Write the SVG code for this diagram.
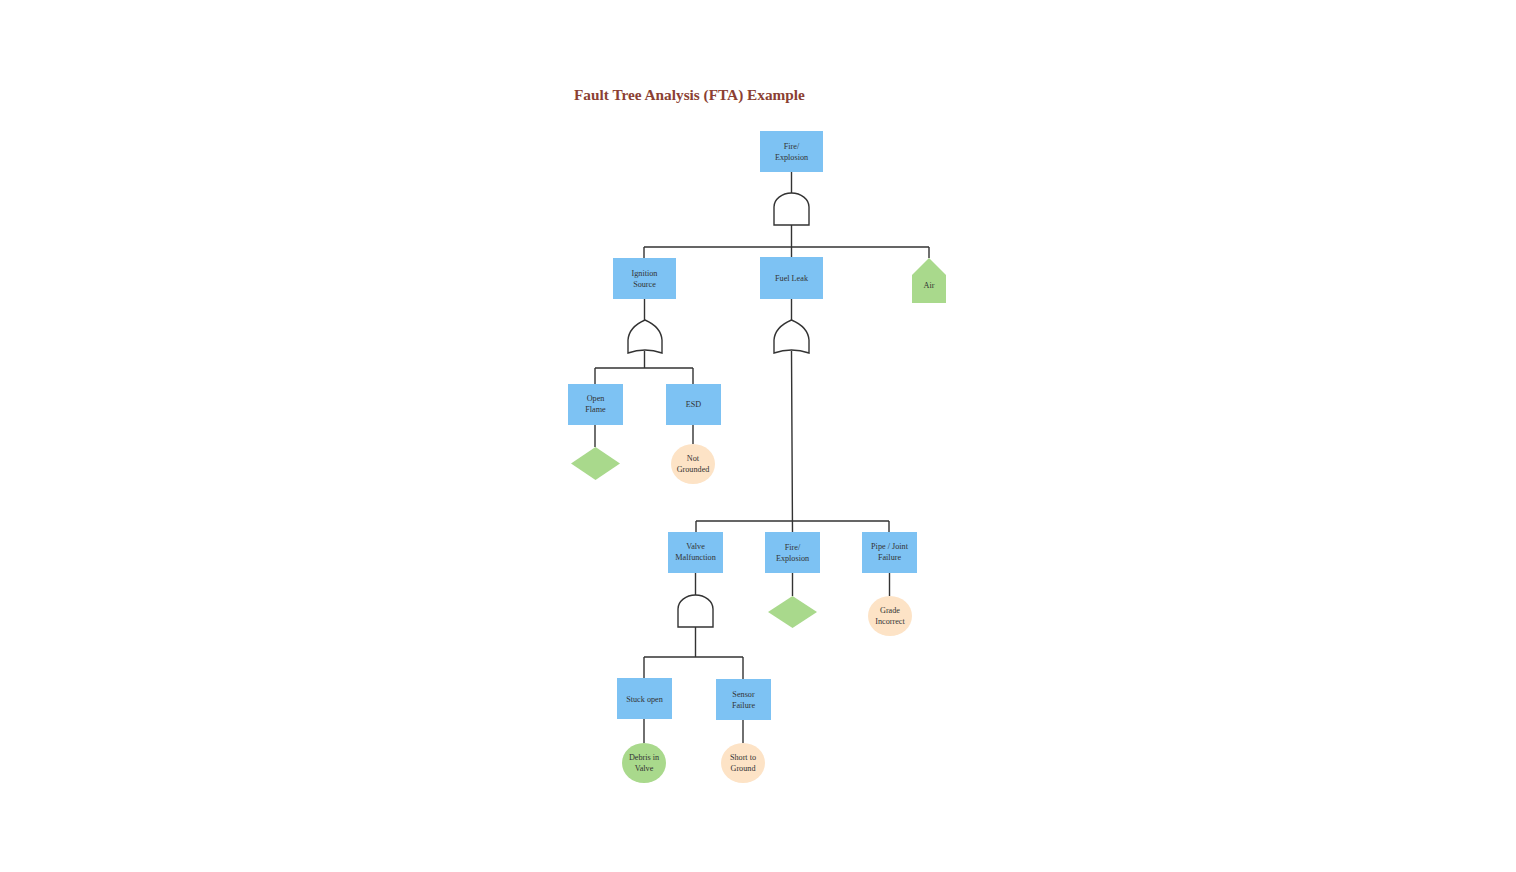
<svg xmlns="http://www.w3.org/2000/svg" width="1516" height="872" viewBox="0 0 1516 872">
<style>
.box{fill:#7DC2F3;}
.green{fill:#A9D98C;}
.peach{fill:#FDE3C6;}
.gate{fill:#fff;stroke:#333;stroke-width:1.4;}
.ln{fill:none;stroke:#333;stroke-width:1.4;}
.t{font-family:"Liberation Serif",serif;font-size:8.2px;fill:#333;text-anchor:middle;}
.title{font-family:"Liberation Serif",serif;font-size:15.3px;font-weight:bold;fill:#8B3F33;}
</style>
<rect width="1516" height="872" fill="#fff"/>
<text class="title" x="574" y="100">Fault Tree Analysis (FTA) Example</text>
<g id="connectors">
<path class="ln" d="M791.5,172 V193"/>
<path class="ln" d="M791.5,225 V247 M644,247 H929 M644,247 V258 M791.5,247 V257 M929,247 V258"/>
<path class="ln" d="M644.5,299 V320"/>
<path class="ln" d="M644.5,351 V368 M595,368 H693 M595,368 V384 M693,368 V384"/>
<path class="ln" d="M595,425 V447"/>
<path class="ln" d="M693,425 V444"/>
<path class="ln" d="M791.5,299 V320"/>
<path class="ln" d="M791.5,351 L792.5,532 M696,521 H889 M696,521 V532 M889,521 V532"/>
<path class="ln" d="M695.5,573 V595"/>
<path class="ln" d="M792.5,573 V596"/>
<path class="ln" d="M889.5,573 V596"/>
<path class="ln" d="M695.5,627 V657 M644,657 H743 M644,657 V678 M743,657 V679"/>
<path class="ln" d="M644,719 V743"/>
<path class="ln" d="M743,720 V743"/>
</g>
<g id="top-event">
<rect class="box" x="760" y="131" width="63" height="41"/>
<text class="t" x="791.5" y="149">Fire/</text>
<text class="t" x="791.5" y="160">Explosion</text>
</g>
<g id="and-gate-1">
<path class="gate" d="M774,225 V207 A17.5,14 0 0 1 809,207 V225 Z"/>
</g>
<g id="ignition-source">
<rect class="box" x="613" y="258" width="63" height="41"/>
<text class="t" x="644.5" y="276">Ignition</text>
<text class="t" x="644.5" y="287">Source</text>
</g>
<g id="fuel-leak">
<rect class="box" x="760" y="257" width="63" height="42"/>
<text class="t" x="791.5" y="281">Fuel Leak</text>
</g>
<g id="air">
<path class="green" d="M912,303 V275 L929,258 L946,275 V303 Z"/>
<text class="t" x="929" y="288">Air</text>
</g>
<g id="or-gate-1">
<path class="gate" d="M628,353 V340 Q629,327 645,320 Q661,327 662,340 V353 Q645,347 628,353 Z"/>
</g>
<g id="open-flame">
<rect class="box" x="568" y="384" width="55" height="41"/>
<text class="t" x="595.5" y="401">Open</text>
<text class="t" x="595.5" y="412">Flame</text>
</g>
<g id="esd">
<rect class="box" x="666" y="384" width="55" height="41"/>
<text class="t" x="693.5" y="407">ESD</text>
</g>
<g id="diamond-1">
<path class="green" d="M595.5,447 L620,463.5 L595.5,480 L571,463.5 Z"/>
</g>
<g id="not-grounded">
<ellipse class="peach" cx="693" cy="464" rx="22" ry="20"/>
<text class="t" x="693" y="461">Not</text>
<text class="t" x="693" y="472">Grounded</text>
</g>
<g id="or-gate-2">
<path class="gate" d="M774,353 V340 Q775,327 791.5,320 Q808,327 809,340 V353 Q791.5,347 774,353 Z"/>
</g>
<g id="valve-malfunction">
<rect class="box" x="668" y="532" width="55" height="41"/>
<text class="t" x="695.5" y="549">Valve</text>
<text class="t" x="695.5" y="560">Malfunction</text>
</g>
<g id="fire-explosion-2">
<rect class="box" x="765" y="532" width="55" height="41"/>
<text class="t" x="792.5" y="550">Fire/</text>
<text class="t" x="792.5" y="561">Explosion</text>
</g>
<g id="pipe-joint-failure">
<rect class="box" x="862" y="532" width="55" height="41"/>
<text class="t" x="889.5" y="549">Pipe / Joint</text>
<text class="t" x="889.5" y="560">Failure</text>
</g>
<g id="and-gate-2">
<path class="gate" d="M678,627 V609 A17.5,14 0 0 1 713,609 V627 Z"/>
</g>
<g id="diamond-2">
<path class="green" d="M792.5,596 L817,612 L792.5,628 L768,612 Z"/>
</g>
<g id="grade-incorrect">
<ellipse class="peach" cx="890" cy="616" rx="22" ry="20"/>
<text class="t" x="890" y="613">Grade</text>
<text class="t" x="890" y="624">Incorrect</text>
</g>
<g id="stuck-open">
<rect class="box" x="617" y="678" width="55" height="41"/>
<text class="t" x="644.5" y="702">Stuck open</text>
</g>
<g id="sensor-failure">
<rect class="box" x="716" y="679" width="55" height="41"/>
<text class="t" x="743.5" y="697">Sensor</text>
<text class="t" x="743.5" y="708">Failure</text>
</g>
<g id="debris-in-valve">
<ellipse class="green" cx="644" cy="763" rx="22" ry="20"/>
<text class="t" x="644" y="760">Debris in</text>
<text class="t" x="644" y="771">Valve</text>
</g>
<g id="short-to-ground">
<ellipse class="peach" cx="743" cy="763" rx="22" ry="20"/>
<text class="t" x="743" y="760">Short to</text>
<text class="t" x="743" y="771">Ground</text>
</g>
</svg>
